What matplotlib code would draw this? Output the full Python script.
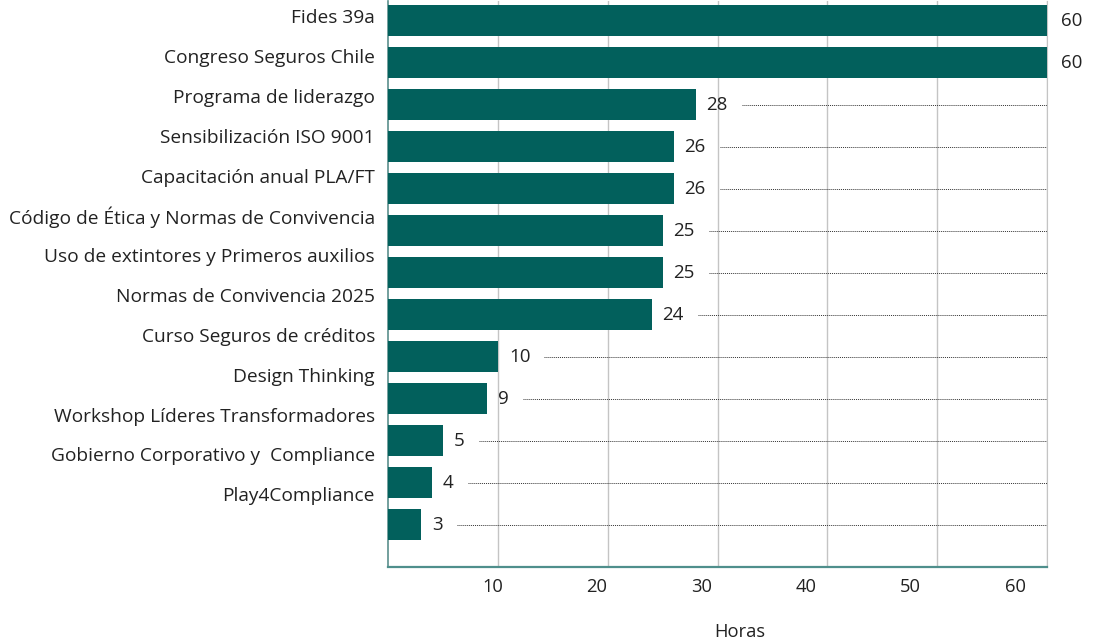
import matplotlib
matplotlib.use("Agg")
import matplotlib.pyplot as plt
from matplotlib import transforms

plt.rcParams['font.family'] = ['Open Sans', 'DejaVu Sans']

categories = ["Fides 39a", "Congreso Seguros Chile", "Programa de liderazgo",
              "Sensibilización ISO 9001", "Capacitación anual PLA/FT",
              "Código de Ética y Normas de Convivencia",
              "Uso de extintores y Primeros auxilios",
              "Normas de Convivencia 2025", "Curso Seguros de créditos",
              "Design Thinking", "Workshop Líderes Transformadores",
              "Gobierno Corporativo y  Compliance", "Play4Compliance"]
values = [60, 60, 28, 26, 26, 25, 25, 24, 10, 9, 5, 4, 3]
xticks = [10, 20, 30, 40, 50, 60]
xlabel = "Horas"

bar_color = "#02605C"
text_color = "#222222"

fig = plt.figure(figsize=(10.96, 6.44), dpi=100)
ax = fig.add_axes([388/1096, 1-567/644, (1047-388)/1096, 567/644 - 0.001])

n = len(values)
ypos = list(range(n))
ax.barh(ypos, values, height=0.74, color=bar_color, zorder=3)
ax.set_xlim(0, 60)
ax.set_ylim(n - 1 + 1.01, -0.475)

ax.set_xticks(xticks)
ax.set_xticklabels([])
ax.tick_params(axis='x', length=0)
ax.set_yticks([])
ax.grid(axis='x', color="#c4c4c4", lw=1, zorder=0)
ax.set_axisbelow(True)
ax.spines['top'].set_visible(False)
ax.spines['right'].set_color("#c4c4c4")
ax.spines['left'].set_color("#5b8f8c")
ax.spines['left'].set_linewidth(1.2)
ax.spines['bottom'].set_color("#4f8f8c")
ax.spines['bottom'].set_linewidth(1.6)

# category labels (slightly tighter pitch than bars, as in the reference)
lab_trans = transforms.blended_transform_factory(fig.transFigure, ax.transData)
for i, c in enumerate(categories):
    ax.text(375/1096, i * 0.948 - 0.05, c, transform=lab_trans, ha='right',
            va='center', fontsize=13.8, color=text_color)

# x tick labels (slightly compressed spacing as in the reference)
tick_trans = transforms.blended_transform_factory(ax.transData, fig.transFigure)
for t in xticks:
    ax.text(t * 0.952, 1 - 587/644, str(t), transform=tick_trans, ha='center',
            va='center', fontsize=13.2, color=text_color)

fig.text(740/1096, 1 - 632/644, xlabel, ha='center', va='center',
         fontsize=13.2, color=text_color)

# value labels and dotted leaders
fig.canvas.draw()
renderer = fig.canvas.get_renderer()
for i, v in enumerate(values):
    off = transforms.offset_copy(ax.transData, fig=fig, x=11 if v < 60 else 14,
                                 y=0, units='dots')
    t = ax.text(v, i, str(v), transform=off, ha='left', va='center',
                fontsize=13.5, color=text_color, clip_on=False)
    if v < 60:
        bb = t.get_window_extent(renderer)
        x0 = ax.transData.inverted().transform((bb.x1 + 14, 0))[0]
        ax.plot([x0, 60], [i, i], ls=(0, (1, 1)), color="#333333", lw=0.7,
                zorder=4)

fig.savefig("out.png", dpi=100)
